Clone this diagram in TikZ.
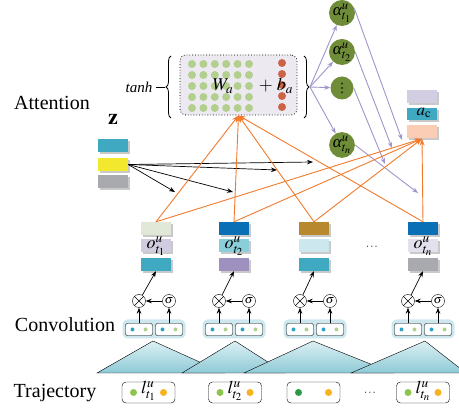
\documentclass[tikz,border=0pt]{standalone}
\usepackage{mathptmx}
\usepackage{fontspec}
\setmainfont{Liberation Serif}
\newfontfamily\symfont{DejaVu Sans}
\usetikzlibrary{arrows.meta,decorations.pathreplacing,shadows}

\definecolor{attfill}{HTML}{ECE9F1}
\definecolor{dotgreen}{HTML}{B3CF8E}
\definecolor{dotred}{HTML}{CC6347}
\definecolor{alphagreen}{HTML}{6F8D38}
\definecolor{lilac}{HTML}{9F95CA}
\definecolor{orng}{HTML}{F37A2B}
\definecolor{aclilac}{HTML}{D2CDE1}
\definecolor{vteal}{HTML}{3FA9C1}
\definecolor{acpeach}{HTML}{FBCDB4}
\definecolor{zyellow}{HTML}{F2E92F}
\definecolor{vgray}{HTML}{A9AAAE}
\definecolor{palegreen}{HTML}{E2E8D7}
\definecolor{palelilac}{HTML}{D1CBE0}
\definecolor{vblue}{HTML}{0A6FB5}
\definecolor{midcyan}{HTML}{8ACED9}
\definecolor{vpurple}{HTML}{9E90BF}
\definecolor{vgold}{HTML}{B8882F}
\definecolor{palecyan}{HTML}{CCE7ED}
\definecolor{whitelilac}{HTML}{E4E1EE}
\definecolor{convblue}{HTML}{CDE7EF}
\definecolor{dotblue}{HTML}{2EA3C9}
\definecolor{trihi}{HTML}{DDF0F4}
\definecolor{trilo}{HTML}{8ECAD6}
\definecolor{ptgreen}{HTML}{8CC54E}
\definecolor{ptdark}{HTML}{2B9A48}
\definecolor{ptorange}{HTML}{F7B21E}

\begin{document}
\begin{tikzpicture}[x=1pt,y=-1pt,
  lbl/.style={font=\fontsize{20}{24}\selectfont},
  vec/.style={minimum width=30pt,minimum height=13pt,inner sep=0pt,
    drop shadow={shadow xshift=2pt,shadow yshift=-2pt,opacity=.3,fill=black!70}},
  alpha/.style={circle,fill=alphagreen,minimum size=23pt,inner sep=0pt,font=\fontsize{17}{17}\selectfont},
  gate/.style={circle,draw,minimum size=13pt,inner sep=0pt,fill=white},
  cell/.style={draw,rounded corners=2pt,minimum width=27pt,minimum height=12pt,inner sep=0pt,fill=white},
  conv/.style={fill=convblue,rounded corners=5pt,minimum width=63pt,minimum height=19pt},
  traj/.style={draw,rounded corners=4pt,minimum width=53pt,minimum height=21pt,inner sep=0pt},
  ptr/.style={line width=.7pt,-{Stealth[length=6pt,width=4.5pt]}},
  wgt/.style={lilac,line width=.9pt,-{Stealth[length=6pt,width=4.5pt]}},
  ctx/.style={orng,line width=.9pt,-{Stealth[length=7pt,width=5pt]}}]

\useasboundingbox (0,0) rectangle (459,411);

\node[lbl] (attlbl) at (52,103) {Attention};
\node[lbl] (convlbl) at (65,325) {Convolution};
\node[lbl] (trajlbl) at (55,393) {Trajectory};

\node[draw,dotted,thick,fill=attfill,rounded corners=6pt,minimum width=117pt,minimum height=60pt] (att) at (238.5,85) {};
\foreach \i in {0,...,5}
  \foreach \j in {0,...,4}
    \fill[dotgreen] (192+11.4*\i,64+11*\j) circle (4pt);
\foreach \j in {0,...,4}
  \fill[dotred] (282,63+11*\j) circle (4pt);
\node[font=\fontsize{18}{18}\selectfont] (wa) at (223,86) {$W_a$};
\node[font=\fontsize{18}{18}\selectfont] (ba) at (276,86) {$+\;b_a$};
\draw[thick,decorate,decoration={brace,amplitude=5pt}] (171,118) -- (171,56);
\draw[thick,decorate,decoration={brace,amplitude=5pt}] (304,56) -- (304,118);
\coordinate (lb) at (165,87);
\coordinate (rb) at (310,87);
\node[font=\fontsize{15}{15}\selectfont\itshape] (tanh) at (139,87) {tanh};
\draw[thick] (tanh) -- (lb);

\node[alpha] (a1) at (342,13) {\textit{α}$^{u}_{t_1}$};
\node[alpha] (a2) at (342,52) {\textit{α}$^{u}_{t_2}$};
\node[alpha,font=\symfont\fontsize{13}{13}\selectfont] (a3) at (342,88) {⋮};
\node[alpha] (a4) at (342,145) {\textit{α}$^{u}_{t_n}$};
\foreach \n in {a1,a2,a3,a4}
  \draw[wgt] (rb) -- (\n);
\coordinate (w1) at (402,140);
\coordinate (w2) at (392,148);
\coordinate (w3) at (385,164);
\coordinate (w4) at (418,193);
\draw[wgt] (a1.20) -- (w1);
\draw[wgt] (a2.east) -- (w2);
\draw[wgt] (a3.east) -- (w3);
\draw[wgt] (a4.east) -- (w4);

\node[vec,fill=aclilac] (ac1) at (422,96.5) {};
\node[vec,fill=vteal,minimum height=12pt] (ac) at (422,114) {};
\node[font=\fontsize{17}{17}\selectfont] (aclbl) at (424,113) {$a_{\mathrm{c}}$};
\node[vec,fill=acpeach] (ac3) at (422,132) {};

\node[font=\fontsize{22}{22}\selectfont] (zlbl) at (113,119) {$\mathbf{z}$};
\node[vec,fill=vteal] (z1) at (113,145.5) {};
\node[vec,fill=zyellow] (z2) at (113,164.5) {};
\node[vec,fill=vgray] (z3) at (113,182) {};
\coordinate (k1) at (175,192);
\coordinate (k2) at (233,192);
\coordinate (k3) at (277,170);
\coordinate (k4) at (313,162);
\foreach \k in {k1,k2,k3,k4}
  \draw[ptr] (z2.east) -- (\k);

\foreach \x/\n/\ca/\cb/\cc/\s in {156/1/palegreen/palelilac/vteal/{$o^{u}_{t_1}$},
    234/2/vblue/midcyan/vpurple/{$o^{u}_{t_2}$},
    314/3/vgold/palecyan/vteal/{},
    423/4/vblue/whitelilac/vgray/{$o^{u}_{t_n}$}} {
  \node[vec,fill=\ca] (ot\n) at (\x,228.5) {};
  \node[vec,fill=\cb] (om\n) at (\x,246) {};
  \node[vec,fill=\cc] (ob\n) at (\x,264.5) {};
  \node[font=\fontsize{18}{18}\selectfont] at (\x,246) {\s};
}
\node[font=\fontsize{11}{11}\selectfont] (odots) at (372,247) {$\cdots$};

\foreach \n in {1,...,4} {
  \draw[ctx] (ot\n.north) -- (att.south);
  \draw[ctx] (ot\n.north) -- (ac3.south);
}

\foreach \x/\n in {154/1,234/2,315/3,423/4} {
  \node[conv] (cv\n) at (\x,329) {};
  \node[cell] (cl\n) at (\x-15,329.5) {};
  \node[cell] (cr\n) at (\x+15,329.5) {};
  \fill[dotblue] (\x-21.5,329.5) circle (2pt);
  \fill[dotgreen] (\x-8.5,329.5) circle (2pt);
  \fill[dotblue] (\x+8.5,329.5) circle (2pt);
  \fill[dotgreen] (\x+21.5,329.5) circle (2pt);
  \node[gate] (mul\n) at (\x-15,301) {};
  \draw (mul\n.north west) -- (mul\n.south east) (mul\n.north east) -- (mul\n.south west);
  \node[gate,font=\fontsize{12}{12}\selectfont] (sig\n) at (\x+15,301) {$\sigma$};
  \draw[ptr] (cl\n) -- (mul\n);
  \draw[ptr] (cr\n) -- (sig\n);
  \draw[ptr] (sig\n) -- (mul\n);
  \draw[ptr] (mul\n) -- (ob\n.south);
}

\foreach \a/\l/\r in {153/97/224,235/182/285,313/244/393,425/351/466}
  \draw[top color=trihi,bottom color=trilo] (\a,341) -- (\r,373) -- (\l,373) -- cycle;

\foreach \x/\n/\cg/\s in {148.5/1/ptgreen/{$l^{u}_{t_1}$},
    235/2/ptgreen/{$l^{u}_{t_2}$},
    313.5/3/ptdark/{},
    423/4/ptgreen/{$l^{u}_{t_n}$}} {
  \node[traj] (tr\n) at (\x,392.5) {};
  \fill[\cg] (\x-15,392.5) circle (3.5pt);
  \fill[ptorange] (\x+15,392.5) circle (3.5pt);
  \node[font=\fontsize{18}{18}\selectfont] at (\x,391) {\s};
}
\node[font=\fontsize{11}{11}\selectfont] (tdots) at (370,393) {$\cdots$};
\end{tikzpicture}
\end{document}
